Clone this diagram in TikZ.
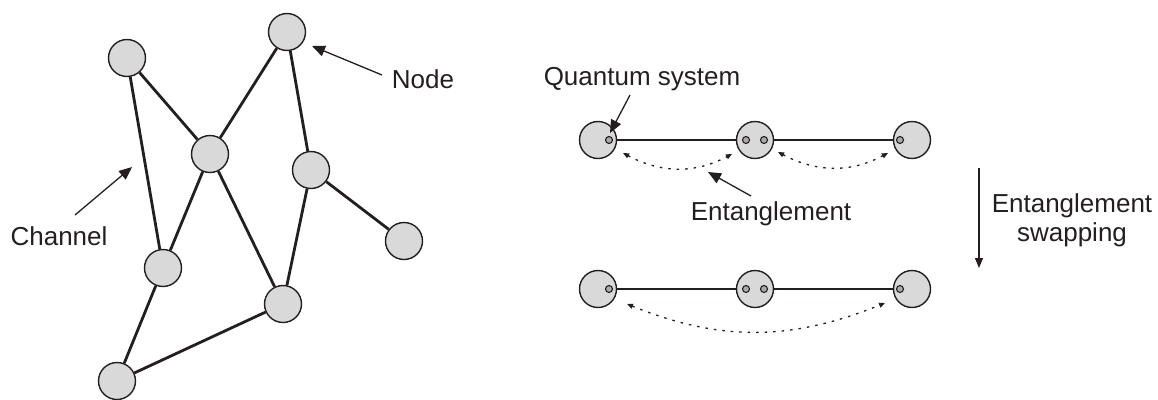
\documentclass[tikz,border=0pt]{standalone}
\usepackage{fontspec}
\setmainfont{Liberation Sans}
\usetikzlibrary{arrows.meta,calc}
\definecolor{ink}{RGB}{35,31,32}
\definecolor{nodefill}{RGB}{217,217,217}
\definecolor{qfill}{RGB}{170,170,170}
\tikzset{
  gnode/.style={circle,draw=ink,fill=nodefill,line width=1.4pt,minimum size=37pt,inner sep=0pt},
  gedge/.style={draw=ink,line width=2.8pt},
  lbl/.style={text=ink,font=\fontsize{26}{29}\selectfont,inner sep=0pt},
  pointer/.style={draw=ink,line width=1.3pt,-{Triangle[length=13pt,width=11pt]}},
  qnode/.style={circle,draw=ink,fill=nodefill,line width=1.4pt,minimum size=37pt,inner sep=0pt},
  qsys/.style={circle,draw=ink,fill=qfill,line width=1.1pt,minimum size=7pt,inner sep=0pt},
  qline/.style={draw=ink,line width=1.6pt},
  ent/.style={draw=ink,line width=1.3pt,dash pattern=on 2.5pt off 6pt,{Triangle[length=6pt,width=5pt]}-{Triangle[length=6pt,width=5pt]}},
  swaparrow/.style={draw=ink,line width=1.5pt,-{Triangle[length=10pt,width=8pt]}}
}
\begin{document}
\begin{tikzpicture}[x=1pt,y=-1pt]
\useasboundingbox (0,0) rectangle (1158,399);
% ---------- network graph ----------
\node[gnode] (A) at (127,58) {};
\node[gnode] (B) at (287,32) {};
\node[gnode] (C) at (210,154) {};
\node[gnode] (D) at (311,170) {};
\node[gnode] (E) at (404,241) {};
\node[gnode] (F) at (163,268) {};
\node[gnode] (G) at (283,304) {};
\node[gnode] (H) at (117,381) {};
\draw[gedge] (A) -- (F);
\draw[gedge] (A) -- (C);
\draw[gedge] (B) -- (C);
\draw[gedge] (B) -- (D);
\draw[gedge] (C) -- (F);
\draw[gedge] (C) -- (G);
\draw[gedge] (D) -- (E);
\draw[gedge] (D) -- (G);
\draw[gedge] (F) -- (H);
\draw[gedge] (H) -- (G);
\node[lbl,anchor=base] (nodelbl) at (423,88) {Node};
\node[lbl,anchor=base] (chlbl) at (59,245) {Channel};
\coordinate (nodetail) at (382,75);
\coordinate (nodetip) at (312,46);
\coordinate (chtail) at (75,215);
\coordinate (chtip) at (132,167);
\draw[pointer] (nodetail) -- (nodetip);
\draw[pointer] (chtail) -- (chtip);
% ---------- before swapping ----------
\node[qnode] (t1) at (598,140) {};
\node[qnode] (t2) at (755,140) {};
\node[qnode] (t3) at (912,140) {};
\node[qsys] (t1a) at (609,140) {};
\node[qsys] (t2a) at (746,140) {};
\node[qsys] (t2b) at (764,140) {};
\node[qsys] (t3a) at (900,140) {};
\draw[qline] (t1.east) -- (t2.west);
\draw[qline] (t2.east) -- (t3.west);
\coordinate (e1s) at (623,153);
\coordinate (e1t) at (732,154);
\coordinate (e2s) at (778,152);
\coordinate (e2t) at (888,153);
\draw[ent] (e1s) to[out=-28,in=-152] (e1t);
\draw[ent] (e2s) to[out=-28,in=-152] (e2t);
\node[lbl,anchor=base] (qlbl) at (642,85) {Quantum system};
\coordinate (qtail) at (630,95);
\coordinate (qtip) at (610,133);
\draw[pointer] (qtail) -- (qtip);
\node[lbl,anchor=base] (entlbl) at (771,220) {Entanglement};
\coordinate (entail) at (751,196);
\coordinate (entip) at (708,172);
\draw[pointer] (entail) -- (entip);
% ---------- swapping arrow ----------
\coordinate (sws) at (979,168);
\coordinate (swe) at (979,268);
\draw[swaparrow] (sws) -- (swe);
\node[lbl,anchor=base] (swl1) at (1072,212) {Entanglement};
\node[lbl,anchor=base] (swl2) at (1072,241) {swapping};
% ---------- after swapping ----------
\node[qnode] (b1) at (598,289) {};
\node[qnode] (b2) at (755,289) {};
\node[qnode] (b3) at (912,289) {};
\node[qsys] (b1a) at (609,289) {};
\node[qsys] (b2a) at (746,289) {};
\node[qsys] (b2b) at (764,289) {};
\node[qsys] (b3a) at (900,289) {};
\draw[qline] (b1.east) -- (b2.west);
\draw[qline] (b2.east) -- (b3.west);
\coordinate (e3s) at (627,304);
\coordinate (e3t) at (885,303);
\draw[ent] (e3s) to[out=-22,in=-158] (e3t);
\end{tikzpicture}
\end{document}
